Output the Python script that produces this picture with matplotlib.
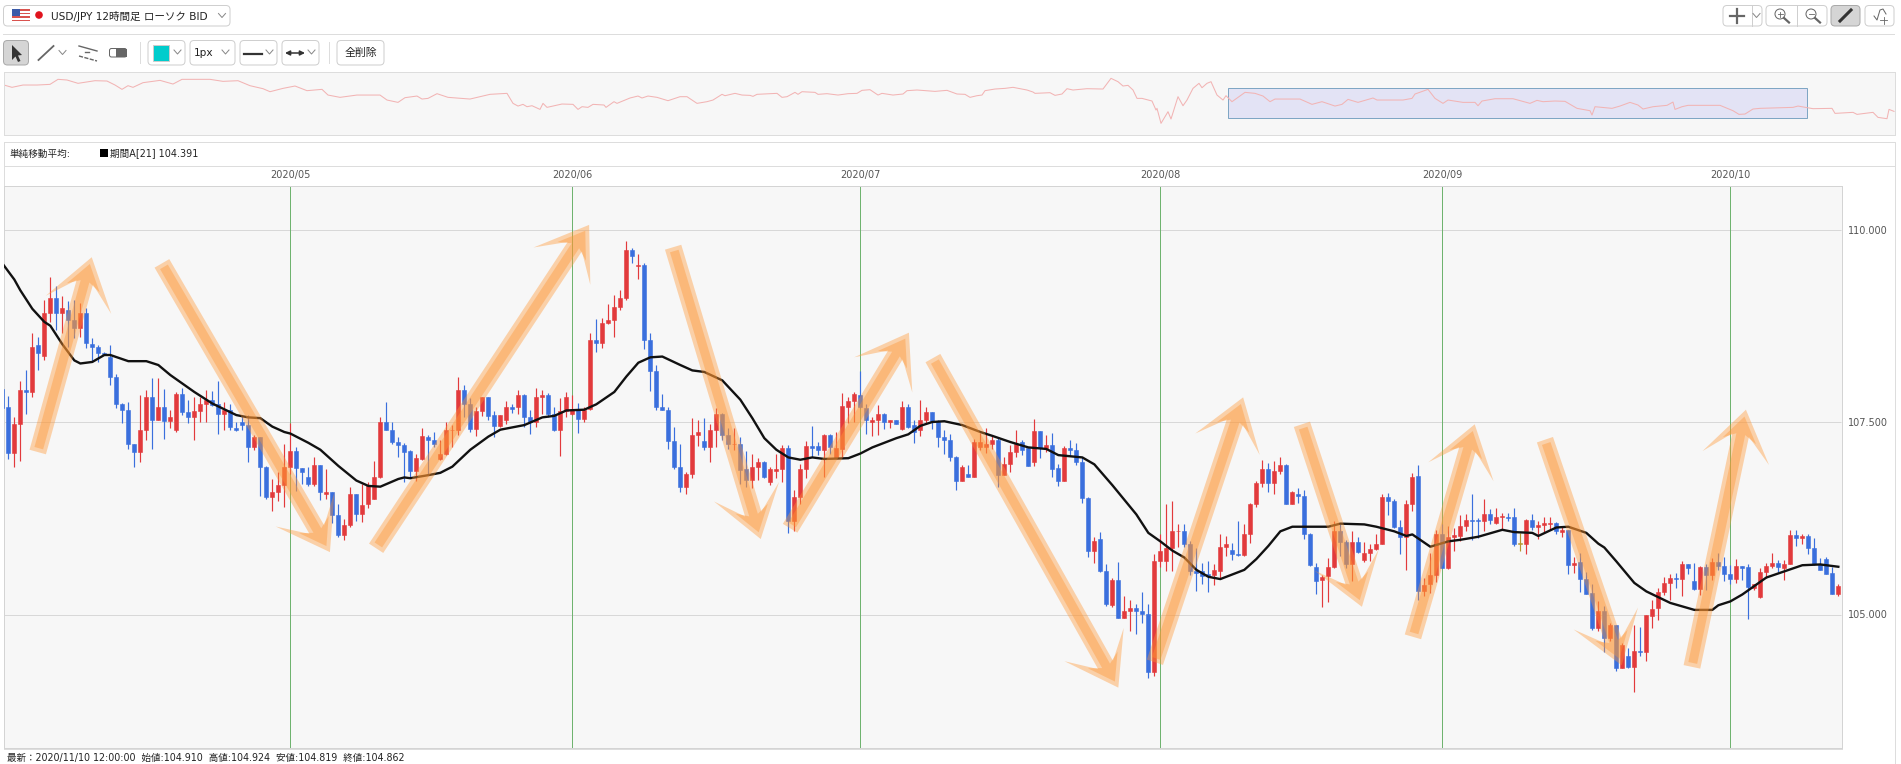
import numpy as np
import matplotlib
matplotlib.use("Agg")
import matplotlib.pyplot as plt
from matplotlib.patches import Rectangle, FancyBboxPatch, Polygon, Circle
from matplotlib.transforms import IdentityTransform

plt.rcParams['font.family'] = ['DejaVu Sans', 'Noto Sans CJK JP']

##################################################
# 12h candles, USD/JPY
##################################################
open_prices = [
    107.93,107.69,107.10,107.48,107.92,107.89,108.50,108.36,108.92,109.11,
    108.91,108.96,108.82,108.72,108.92,108.51,108.47,108.40,108.35,108.09,
    107.73,107.66,107.21,107.11,107.40,107.83,107.53,107.69,107.51,107.39,
    107.86,107.63,107.57,107.64,107.74,107.79,107.74,107.60,107.66,107.42,
    107.50,107.46,107.18,107.30,106.92,106.52,106.59,106.68,106.91,107.12,
    106.90,106.78,106.69,106.94,106.57,106.59,106.29,106.03,106.16,106.56,
    106.31,106.43,106.50,106.78,107.50,107.40,107.24,
    107.20,107.12,106.87,107.02,107.30,107.27,107.02,107.09,107.39,107.40,
    107.92,107.74,107.41,107.64,107.82,107.59,107.45,107.52,107.69,107.69,
    107.85,107.57,107.50,107.83,107.85,107.61,107.39,107.64,107.60,107.66,
    107.54,107.67,108.56,108.52,108.79,108.83,108.99,109.11,109.73,109.52,
    109.54,108.56,108.16,107.70,107.66,107.25,106.92,106.65,106.83,107.33,
    107.25,107.17,107.39,107.61,107.33,107.21,107.22,106.89,106.75,106.92,
    106.98,106.72,106.87,106.89,107.16,106.21,
    106.52,106.89,107.19,107.19,107.14,107.33,107.03,107.15,107.70,107.77,
    107.85,107.68,107.50,107.53,107.61,107.50,107.52,107.41,107.69,107.46,
    107.39,107.53,107.63,107.51,107.30,107.27,107.05,106.74,106.82,106.79,
    107.18,107.18,107.22,107.27,106.81,106.95,107.11,107.24,107.16,106.98,
    107.38,107.16,107.20,106.90,106.74,107.16,107.14,106.98,106.51,105.83,
    105.98,105.56,105.12,105.45,104.95,105.04,105.08,105.05,105.01,104.25,
    105.70,105.70,105.86,106.08,106.09,105.91,105.56,
    105.56,105.53,105.51,105.57,105.88,105.84,105.79,105.77,106.04,106.43,
    106.71,106.89,106.71,106.86,106.94,106.44,106.56,106.54,106.05,105.62,
    105.45,105.50,105.62,106.08,105.94,105.65,105.94,105.71,105.80,105.85,
    105.92,106.53,106.47,106.14,106.01,106.44,106.80,105.30,105.39,105.51,
    106.05,105.61,106.01,106.02,106.15,106.23,106.23,106.21,106.30,106.19,
    106.26,106.27,106.27,105.92,105.92,106.23,106.14,106.16,106.17,106.19,
    106.07,106.10,105.64,105.68,105.46,105.28,104.83,
    105.05,104.70,104.86,104.30,104.46,104.32,104.53,104.51,104.98,105.08,
    105.29,105.41,105.48,105.46,105.65,105.44,105.33,105.62,105.51,105.68,
    105.63,105.52,105.46,105.63,105.62,105.35,105.23,105.55,105.63,105.67,
    105.61,105.65,106.03,105.99,106.02,105.87,105.66,105.72,105.54,105.26,
]
high_prices = [
    107.96,107.84,107.56,108.03,108.18,108.66,108.61,109.08,109.38,109.26,
    109.13,109.07,109.09,109.04,108.98,108.59,108.50,108.41,108.50,108.12,
    107.75,107.76,107.22,107.85,107.91,108.07,108.07,107.93,107.65,107.89,
    107.94,107.78,107.82,107.82,107.92,107.90,108.03,107.76,107.73,107.50,
    107.58,107.59,107.33,107.31,106.93,106.76,106.85,107.21,107.49,107.18,
    106.90,106.92,107.05,106.94,106.89,106.59,106.44,106.24,106.66,106.56,
    106.70,106.72,107.00,107.56,107.76,107.50,107.31,
    107.23,107.14,107.09,107.42,107.33,107.37,107.27,107.50,107.46,108.08,
    107.98,107.81,107.70,107.83,107.82,107.64,107.59,107.77,107.74,107.92,
    107.87,107.66,107.94,107.92,107.88,107.70,107.81,107.89,107.85,107.75,
    107.69,108.65,108.84,108.85,109.03,109.15,109.22,109.85,109.76,109.68,
    109.57,108.65,108.24,107.86,107.70,107.44,107.22,106.85,107.55,107.53,
    107.55,107.48,107.68,107.62,107.42,107.42,107.30,107.12,107.09,107.03,
    106.99,106.91,107.09,107.20,107.20,106.62,
    106.96,107.25,107.45,107.24,107.34,107.34,107.37,107.88,107.83,107.89,
    108.16,107.74,107.56,107.72,107.62,107.52,107.53,107.77,107.74,107.52,
    107.79,107.70,107.63,107.52,107.40,107.35,107.06,106.94,106.94,107.28,
    107.36,107.42,107.32,107.30,107.05,107.20,107.40,107.27,107.16,107.54,
    107.38,107.33,107.36,106.95,107.19,107.27,107.23,107.05,106.52,106.01,
    106.07,105.65,105.47,105.68,105.24,105.19,105.14,105.29,105.14,105.79,
    106.05,106.43,106.47,106.18,106.18,105.95,105.86,
    105.67,105.70,105.66,106.05,106.02,105.93,106.21,106.18,106.45,106.73,
    107.01,106.97,106.99,107.05,106.95,106.60,106.64,106.62,106.06,105.67,
    105.51,105.73,106.21,106.18,105.97,106.08,106.01,105.94,105.92,106.05,
    106.56,106.58,106.50,106.23,106.49,106.84,106.94,105.48,105.80,106.10,
    106.18,106.15,106.12,106.29,106.30,106.56,106.25,106.50,106.37,106.38,
    106.32,106.32,106.38,106.06,106.24,106.30,106.21,106.26,106.27,106.20,
    106.14,106.10,105.75,105.80,105.55,105.40,105.17,
    105.11,104.89,104.86,104.63,104.57,104.87,104.84,105.00,105.19,105.35,
    105.49,105.53,105.54,105.70,105.66,105.67,105.63,105.65,105.74,105.80,
    105.75,105.64,105.72,105.63,105.65,105.40,105.61,105.67,105.80,105.71,
    105.71,106.10,106.10,106.04,106.05,105.99,105.74,105.75,105.62,105.40,
]
low_prices = [
    107.63,107.02,106.91,107.00,107.61,107.82,108.17,108.31,108.80,108.70,
    108.66,108.48,108.59,108.60,108.46,108.28,108.28,108.37,107.98,107.68,
    107.49,107.15,106.91,106.98,107.27,107.15,107.52,107.28,107.42,107.37,
    107.59,107.49,107.27,107.50,107.50,107.71,107.34,107.39,107.39,107.38,
    107.39,106.98,107.14,106.54,106.50,106.35,106.47,106.40,106.83,106.60,
    106.69,106.67,106.67,106.49,106.50,106.19,106.01,105.97,106.13,106.21,
    106.20,106.38,106.50,106.77,107.39,107.22,107.05,
    106.72,106.79,106.74,107.01,106.83,107.18,107.01,107.07,107.18,107.33,
    107.57,107.37,107.32,107.58,107.53,107.31,107.44,107.48,107.62,107.61,
    107.44,107.35,107.44,107.61,107.57,107.38,107.06,107.57,107.59,107.36,
    107.50,107.66,108.41,108.46,108.77,108.60,108.96,109.08,109.57,109.36,
    108.45,107.90,107.65,107.65,107.15,106.89,106.59,106.56,106.77,107.19,
    107.14,106.98,107.18,107.27,107.15,107.14,106.70,106.66,106.64,106.75,
    106.77,106.68,106.77,106.72,106.06,106.08,
    106.44,106.77,107.05,107.07,106.79,107.08,107.02,107.03,107.49,107.50,
    107.68,107.34,107.32,107.33,107.41,107.42,107.47,107.39,107.42,107.23,
    107.32,107.48,107.41,107.17,107.08,107.00,106.62,106.73,106.78,106.78,
    107.13,107.10,107.15,106.65,106.81,106.85,107.04,107.07,106.93,106.93,
    107.03,107.11,106.79,106.67,106.74,107.07,106.94,106.45,105.75,105.67,
    105.55,105.11,105.10,104.95,104.95,104.79,104.75,104.89,104.18,104.20,
    105.62,105.57,105.57,105.88,105.88,105.51,105.31,
    105.39,105.29,105.38,105.46,105.76,105.71,105.76,105.76,105.93,106.40,
    106.66,106.59,106.56,106.83,106.44,106.44,106.45,105.98,105.63,105.27,
    105.10,105.16,105.61,105.76,105.60,105.43,105.80,105.68,105.69,105.84,
    105.91,106.29,106.12,105.79,105.58,106.35,105.19,105.24,105.28,105.42,
    105.60,105.59,105.83,105.95,106.09,105.97,106.00,106.09,106.17,106.17,
    106.10,106.21,105.89,105.82,105.78,106.10,105.98,106.06,106.10,106.05,
    106.01,105.53,105.54,105.29,105.26,104.80,104.78,
    104.51,104.65,104.26,104.30,104.31,103.99,104.46,104.39,104.82,104.93,
    105.25,105.19,105.34,105.24,105.53,105.32,105.25,105.32,105.45,105.58,
    105.43,105.39,105.41,105.45,104.94,105.32,105.22,105.48,105.61,105.55,
    105.45,105.65,105.89,105.91,105.79,105.64,105.58,105.52,105.26,105.24,
]
close_prices = [
    107.68,107.10,107.48,107.92,107.89,108.48,108.40,108.92,109.11,108.91,
    108.98,108.82,108.72,108.92,108.52,108.48,108.40,108.38,108.09,107.73,
    107.66,107.21,107.11,107.40,107.83,107.53,107.69,107.51,107.57,107.86,
    107.63,107.57,107.64,107.74,107.79,107.72,107.61,107.65,107.43,107.39,
    107.46,107.18,107.30,106.92,106.52,106.59,106.68,106.91,107.12,106.90,
    106.85,106.69,106.94,106.59,106.59,106.29,106.03,106.16,106.56,106.31,
    106.42,106.68,106.78,107.50,107.40,107.24,107.20,
    107.11,106.87,107.03,107.32,107.27,107.21,107.09,107.40,107.40,107.92,
    107.74,107.41,107.64,107.82,107.58,107.45,107.59,107.69,107.67,107.85,
    107.57,107.50,107.82,107.85,107.61,107.39,107.64,107.82,107.66,107.54,
    107.66,108.56,108.52,108.78,108.83,108.99,109.11,109.73,109.65,109.54,
    108.56,108.16,107.70,107.66,107.25,106.92,106.65,106.83,107.33,107.37,
    107.17,107.39,107.61,107.33,107.22,107.22,106.88,106.75,106.92,106.98,
    106.79,106.89,106.89,107.16,106.21,106.52,
    106.89,107.19,107.16,107.14,107.33,107.17,107.16,107.71,107.77,107.86,
    107.69,107.52,107.53,107.61,107.50,107.52,107.48,107.69,107.44,107.37,
    107.53,107.63,107.51,107.30,107.26,107.05,106.74,106.92,106.79,107.24,
    107.24,107.22,107.27,106.81,106.95,107.11,107.22,107.13,106.93,107.38,
    107.16,107.20,106.89,106.74,107.16,107.14,106.98,106.51,105.83,105.96,
    105.56,105.13,105.45,104.95,105.04,105.08,105.05,105.01,104.25,105.70,
    105.83,105.86,106.08,106.09,105.91,105.56,105.54,
    105.50,105.50,105.58,105.88,105.92,105.78,105.77,106.05,106.44,106.71,
    106.89,106.71,106.86,106.94,106.44,106.59,106.54,106.05,105.64,105.44,
    105.49,105.62,106.08,105.94,105.65,105.94,105.81,105.80,105.85,105.92,
    106.53,106.47,106.14,106.01,106.44,106.79,105.30,105.38,105.51,106.04,
    105.61,106.01,106.03,106.15,106.23,106.21,106.21,106.30,106.23,106.27,
    106.28,106.25,105.92,105.92,106.23,106.13,106.16,106.19,106.19,106.08,
    106.10,105.64,105.67,105.46,105.27,104.82,105.05,
    104.70,104.86,104.30,104.60,104.32,104.53,104.51,104.99,105.07,105.29,
    105.41,105.48,105.46,105.65,105.60,105.33,105.62,105.51,105.68,105.63,
    105.53,105.46,105.63,105.61,105.36,105.39,105.55,105.63,105.67,105.62,
    105.66,106.03,105.99,106.02,105.86,105.65,105.58,105.52,105.27,105.37,
]

# 21 period moving average, read at these bars
ma_bar = [0,2,3,5,7,8,10,12,13,15,17,18,21,24,26,28,32,35,39,41,43,45,47,48,51,53,56,59,61,63,66,
          67,68,71,73,75,78,81,83,87,90,92,94,97,99,102,104,106,108,110,113,115,117,120,123,125,127,129,131,133,
          135,137,141,143,145,149,151,153,155,157,160,163,165,168,171,174,176,180,182,185,187,189,191,193,195,197,199,
          201,203,205,207,209,211,213,215,218,221,223,227,229,232,234,235,238,241,243,246,250,252,255,256,259,261,264,266,
          267,269,272,274,278,282,285,286,288,290,294,297,300,303,306]
ma_value = [109.56,109.35,109.21,108.97,108.80,108.75,108.51,108.30,108.26,108.28,108.37,108.37,108.29,108.29,108.24,108.11,107.89,107.74,107.59,107.56,107.55,107.44,107.37,107.35,107.23,107.14,106.93,106.74,106.67,106.66,106.76,
            106.78,106.77,106.81,106.84,106.92,107.14,107.31,107.40,107.46,107.56,107.58,107.65,107.66,107.73,107.89,108.09,108.27,108.34,108.35,108.24,108.17,108.15,108.04,107.79,107.55,107.29,107.14,107.04,107.01,
            107.04,107.02,107.03,107.09,107.17,107.29,107.34,107.45,107.50,107.51,107.46,107.37,107.32,107.24,107.17,107.15,107.07,107.04,106.95,106.68,106.49,106.30,106.06,105.95,105.83,105.74,105.58,
            105.49,105.46,105.52,105.58,105.72,105.89,106.08,106.14,106.14,106.14,106.18,106.17,106.14,106.08,106.02,106.04,105.88,105.95,105.97,106.01,106.10,106.07,106.06,106.02,106.13,106.14,106.06,105.92,
            105.87,105.69,105.41,105.30,105.15,105.06,105.06,105.12,105.17,105.26,105.48,105.56,105.64,105.65,105.62]

month_bar = [48, 95, 143, 193, 240, 288]
month_label = ['2020/05', '2020/06', '2020/07', '2020/08', '2020/09', '2020/10']
price_ticks = [105.0, 107.5, 110.0]

# hand drawn trend arrows on the chart: bar and price of tail and tip
arrow_tail_bar = [5.9, 26.6, 62.3, 111.8, 131.3, 155.1, 192.1, 216.6, 235.1, 257.1, 281.6]
arrow_tail_px = [107.11, 109.56, 105.86, 109.77, 106.12, 108.33, 104.38, 107.47, 104.71, 107.27, 104.32]
arrow_tip_bar = [14.9, 54.6, 97.8, 126.4, 151.1, 186.0, 206.8, 226.6, 245.4, 269.9, 290.6]
arrow_tip_px = [109.64, 105.81, 110.06, 105.98, 108.66, 104.05, 107.82, 105.10, 107.47, 104.34, 107.66]

# overview strip at the top, whole history
nav_pos = [4,12,23,37,50,58,67,78,95,107,115,122,128,133,143,160,173,182,210,223,238,250,263,270,283,295,307,322,328,340,357,380,387,398,405,417,422,428,437,448,470,
           490,507,513,518,523,527,532,540,543,547,562,573,578,582,588,593,604,606,614,617,630,638,642,648,657,668,680,687,697,707,713,722,725,735,742,750,753,757,777,782,787,795,798,802,815,818,827,838,848,857,862,870,878,882,893,903,907,917,935,947,957,965,
           970,977,982,985,995,1005,1013,1027,1033,1035,1050,1055,1062,1067,1073,1087,1103,1111,1118,1123,1128,1133,1137,1142,1152,1156,1157,1161,1168,1171,1178,1183,1187,1193,1199,1202,1207,1211,1217,1223,1226,1232,1245,1255,1263,1270,1275,1300,1312,1322,1335,1342,1348,1358,1373,1377,1403,1412,1415,1428,1435,1443,
           1448,1463,1475,1478,1482,1495,1513,1530,1537,1543,1555,1565,1577,1590,1592,1595,1612,1620,1630,1638,1643,1653,1667,1673,1675,1682,1688,1720,1733,1739,1745,1753,1760,1793,1798,1813,1832,1835,1853,1857,1873,1878,1887,1889,1894]
nav_value = [110.69,110.20,110.69,110.69,110.83,111.90,111.76,111.05,111.61,111.54,110.69,109.77,110.55,110.20,111.19,111.68,110.90,111.90,111.90,111.47,111.61,110.55,109.91,109.27,109.98,110.48,109.49,109.77,108.56,108.07,108.56,108.56,107.50,107.00,108.00,108.35,107.71,107.85,108.85,108.07,107.71,
             108.71,108.92,106.79,106.22,106.58,106.08,106.29,105.51,106.79,105.94,106.65,106.58,105.51,106.08,105.94,106.58,106.44,105.94,107.15,106.79,107.93,108.35,107.93,108.35,108.07,107.36,108.21,108.21,106.79,107.15,107.50,108.71,108.42,108.92,108.56,108.49,108.28,108.71,108.92,108.07,108.21,109.13,108.71,109.27,109.13,108.71,108.85,108.56,108.85,108.92,109.56,109.70,108.56,108.92,108.56,108.78,109.49,109.63,109.34,109.56,108.78,108.71,
             108.07,108.42,108.56,109.49,109.84,109.98,110.20,109.63,109.20,108.92,109.06,108.49,108.78,109.91,109.63,109.91,109.84,112.11,111.40,110.48,110.62,109.63,107.85,107.85,107.29,105.37,105.73,102.54,105.02,103.46,108.21,106.29,107.50,109.98,111.05,110.12,111.05,111.40,108.56,107.50,108.42,107.15,109.13,108.92,108.35,107.15,107.71,107.71,106.58,107.15,106.22,106.58,107.64,107.00,107.93,107.50,107.50,107.85,108.78,109.77,107.85,106.79,
             107.50,107.00,107.00,106.29,107.29,107.78,107.78,106.79,107.43,107.15,107.29,107.22,105.73,105.23,104.31,106.08,105.73,106.22,107.00,106.44,105.59,106.08,106.37,107.07,105.51,106.08,106.37,106.37,105.23,104.45,104.52,105.59,105.73,105.94,106.22,105.66,105.73,104.66,104.88,104.45,104.88,103.81,103.53,105.51,105.09]
nav_window = [1228, 1807]

top_title = 'USD/JPY 12時間足 ローソク BID'
ma_legend_name = '単純移動平均:'
ma_legend_value = '期間A[21] 104.391'
footer_text = '最新：2020/11/10 12:00:00  始値:104.910  高値:104.924  安値:104.819  終値:104.862'

##################################################
# Figure, pixel canvas for the toolbar chrome
##################################################
W, H = 1901, 764
fig = plt.figure(figsize=(W / 100, H / 100), dpi=100, facecolor='white')

chrome = fig.add_axes([0, 0, 1, 1], zorder=0)
chrome.set_xlim(0, W)
chrome.set_ylim(H, 0)
chrome.axis('off')

BORDER = '#dddddd'
BTN = '#cfcfcf'
ICON = '#666666'
PX = 0.72  # one pixel line in points


def box(x0, y0, x1, y1, fc='white', ec=BTN, r=4):
    chrome.add_patch(FancyBboxPatch((x0, y0), x1 - x0, y1 - y0,
                                    boxstyle='round,pad=0,rounding_size=%g' % r,
                                    fc=fc, ec=ec, lw=PX))


def chevron(x, y):
    chrome.plot([x - 3.5, x, x + 3.5], [y - 2, y + 2, y - 2], color='#888888', lw=PX)


# symbol selector
box(3.5, 5.5, 230, 26)
for k in range(7):
    chrome.add_patch(Rectangle((12, 9 + k * 1.75), 18, 1.75, fc='#d9534f' if k % 2 == 0 else 'white', lw=0))
chrome.add_patch(Rectangle((12, 9), 8, 7, fc='#3b5aa8', lw=0))
chrome.add_patch(Circle((39, 15), 3.8, fc='#e0141e', lw=0))
chrome.text(51, 16, top_title, fontsize=7.6, va='center', color='#222222')
chevron(222, 15.5)

# right hand buttons
box(1723, 5.5, 1762, 26)
chrome.plot([1751.5, 1751.5], [5.5, 26], color=BTN, lw=PX)
chrome.plot([1730, 1744], [15.5, 15.5], color=ICON, lw=1.6)
chrome.plot([1737, 1737], [8.5, 22.5], color=ICON, lw=1.6)
chevron(1756.5, 15.5)
box(1766, 5.5, 1827, 26)
chrome.plot([1796.5, 1796.5], [5.5, 26], color=BTN, lw=PX)
for cx, plus in [(1780, True), (1811, False)]:
    chrome.add_patch(Circle((cx, 14), 5, fc='none', ec=ICON, lw=PX))
    chrome.plot([cx + 4, cx + 9], [18, 22.5], color=ICON, lw=1.6)
    chrome.plot([cx - 2.5, cx + 2.5], [14, 14], color=ICON, lw=0.6)
    if plus:
        chrome.plot([cx, cx], [11.5, 16.5], color=ICON, lw=0.6)
box(1831, 5.5, 1860, 26, fc='#d5d5d5', ec='#aaaaaa')
chrome.plot([1840, 1851], [21, 10], color='#333333', lw=2.2)
box(1865, 5.5, 1894, 26)
chrome.plot([1874, 1877, 1880, 1883, 1886], [16, 20, 10, 9, 14], color=ICON, lw=PX)
chrome.plot([1880, 1887], [20, 20], color=ICON, lw=0.6)
chrome.plot([1883.5, 1883.5], [16.5, 23.5], color=ICON, lw=0.6)

chrome.plot([3, 1894], [33.5, 33.5], color=BORDER, lw=PX)

# drawing tools row
box(3.5, 40.5, 28.5, 65, fc='#d5d5d5', ec='#aaaaaa')
chrome.add_patch(Polygon([(12, 45), (12, 60), (15.5, 56.5), (18, 62), (20.5, 61), (18, 55.5), (22, 55)],
                         fc='#333333', lw=0))
chrome.plot([38.5, 53.5], [60, 46], color=ICON, lw=1.3)
chevron(62.5, 52.5)
chrome.plot([79, 97], [46, 51], color=ICON, lw=1)
chrome.plot([79, 97], [56, 61], color=ICON, lw=1, ls=(0, (3, 1)))
chrome.plot([85, 89], [52, 52], color=ICON, lw=1)
chrome.add_patch(FancyBboxPatch((109.5, 48.5), 17, 8.5, boxstyle='round,pad=0,rounding_size=2', fc='white', ec=ICON, lw=PX))
chrome.add_patch(Rectangle((116, 48.5), 10.5, 8.5, fc=ICON, lw=0))
chrome.plot([139.5, 139.5], [42, 63], color=BORDER, lw=PX)
box(148, 40.5, 185, 65)
chrome.add_patch(Rectangle((153, 45), 16, 16, fc='#00cccc', ec='#cccccc', lw=PX))
chevron(177.5, 52)
box(190, 40.5, 235, 65)
chrome.text(194, 53, '1px', fontsize=7.6, va='center', color='#222222')
chevron(225.5, 52)
box(240, 40.5, 277, 65)
chrome.plot([244, 262], [53.5, 53.5], color='#333333', lw=1.6)
chevron(269.5, 52)
box(282, 40.5, 319, 65)
chrome.annotate('', xy=(305, 53), xytext=(285, 53),
                arrowprops=dict(arrowstyle='<|-|>', color='#333333', lw=1.1, mutation_scale=7,
                                shrinkA=0, shrinkB=0))
chevron(311.5, 52)
chrome.plot([328.5, 328.5], [42, 63], color=BORDER, lw=PX)
box(337, 40.5, 384, 65)
chrome.text(360.5, 53, '全削除', fontsize=7.8, ha='center', va='center', color='#222222')

# frame of the chart panel
chrome.plot([3.5, 1894.5, 1894.5], [141.5, 141.5, 764], color=BORDER, lw=PX)
chrome.plot([3.5, 3.5], [141.5, 748], color=BORDER, lw=PX)
chrome.plot([3.5, 1894.5], [165.5, 165.5], color=BORDER, lw=PX)
chrome.plot([3.5, 1841.5], [748.5, 748.5], color=BORDER, lw=PX)

chrome.text(10, 153.5, ma_legend_name, fontsize=6.9, va='center', color='#222222')
chrome.add_patch(Rectangle((100, 149), 8, 8, fc='black', lw=0))
chrome.text(110, 153.5, ma_legend_value, fontsize=6.9, va='center', color='#222222')
chrome.text(7, 757.5, footer_text, fontsize=6.85, va='center', color='#222222')


def axes_px(x0, y0, x1, y1, **kw):
    return fig.add_axes([x0 / W, 1 - y1 / H, (x1 - x0) / W, (y1 - y0) / H], **kw)


##################################################
# Overview strip
##################################################
nav = axes_px(3.5, 72, 1894.5, 134.5, zorder=2)
nav.set_facecolor('#f7f7f7')
nav.set_xlim(3.5, 1894.5)
nav.set_ylim(100.17, 113.46)
nav.set_xticks([])
nav.set_yticks([])
for s in nav.spines.values():
    s.set_color(BORDER)
    s.set_linewidth(PX)
nav.add_patch(Rectangle((nav_window[0], 103.7), nav_window[1] - nav_window[0], 6.4,
                        fc='#e3e3f5', ec='#7fa6c4', lw=PX))
nav.plot(nav_pos, nav_value, color='#f2b4b4', lw=0.75)

##################################################
# Main candle chart
##################################################
PX_BAR = 6.0
PX_YEN = 77.0
ax = axes_px(4, 186, 1841.5, 748, zorder=3)
ax.set_facecolor('#f7f7f7')
ax.set_xlim((4 - 2.33) / PX_BAR, (1841.5 - 2.33) / PX_BAR)
ax.set_ylim(107.5 + (422 - 748) / PX_YEN, 107.5 + (422 - 186) / PX_YEN)

ax.yaxis.tick_right()
ax.set_yticks(price_ticks)
ax.set_yticklabels(['%.3f' % v for v in price_ticks])
ax.xaxis.tick_top()
ax.set_xticks(month_bar)
ax.set_xticklabels(month_label)
ax.tick_params(length=0, labelsize=7, labelcolor='#555555')
ax.tick_params(axis='y', pad=5)
ax.tick_params(axis='x', pad=4)
for s in ax.spines.values():
    s.set_color('#d4d4d4')
    s.set_linewidth(PX)

ax.hlines(price_ticks, *ax.get_xlim(), color='#d8d8d8', lw=PX, zorder=1)
ax.vlines(month_bar, *ax.get_ylim(), color='#6fb36f', lw=PX, zorder=1)

o = np.array(open_prices)
h = np.array(high_prices)
l = np.array(low_prices)
c = np.array(close_prices)
bars = np.arange(len(c))
UP = '#e23a3c'
DOWN = '#3a6fdd'
DOJI = '#b8962e'
colours = np.where(c > o, UP, np.where(c < o, DOWN, DOJI))

ax.vlines(bars, l, h, colors=colours, lw=0.85, zorder=2)
ax.bar(bars, np.maximum(np.abs(c - o), 0.005), bottom=np.minimum(o, c), width=0.68,
       color=colours, edgecolor=colours, lw=0.4, zorder=3)

ax.plot(ma_bar, ma_value, color='#111111', lw=1.7, zorder=4, solid_joinstyle='round')

##################################################
# Trend arrows, drawn on top with alpha
##################################################
fig.canvas.draw()
ARROW = '#ff9633'
ARROW_ALPHA = 0.4


def arrow_outline(tail, tip, half_width, wing_len, notch):
    # single polygon so the alpha does not double up where shaft and head meet
    d = (tip - tail) / np.linalg.norm(tip - tail)
    n = np.array([-d[1], d[0]])
    a = np.radians(34.5)
    pts = [tail + n * half_width,
           tip - d * notch + n * half_width,
           tip + wing_len * (-d * np.cos(a) + n * np.sin(a)),
           tip,
           tip + wing_len * (-d * np.cos(a) - n * np.sin(a)),
           tip - d * notch - n * half_width,
           tail - n * half_width]
    return pts


for k in range(len(arrow_tail_bar)):
    tail, tip = ax.transData.transform([(arrow_tail_bar[k], arrow_tail_px[k]),
                                        (arrow_tip_bar[k], arrow_tip_px[k])])
    d = (tip - tail) / np.linalg.norm(tip - tail)
    outer = arrow_outline(tail, tip, 8.5, 60, 26)
    inner = arrow_outline(tail + d * 4, tip - d * 7, 4.5, 30, 18)
    for pts in (outer, inner):
        ax.add_patch(Polygon(pts, transform=IdentityTransform(), fc=ARROW, alpha=ARROW_ALPHA,
                             lw=0, zorder=5, clip_on=True))

fig.savefig('out.png', dpi=100)
